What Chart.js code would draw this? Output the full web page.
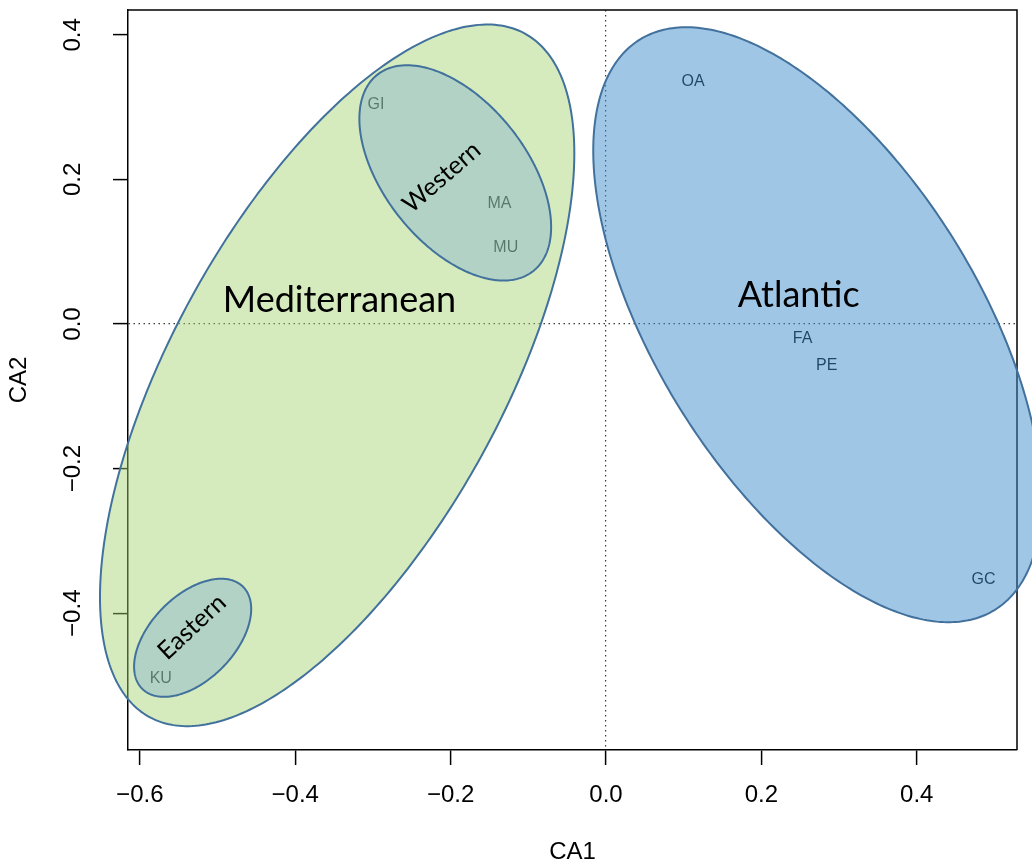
<!DOCTYPE html>
<html>
<head>
<meta charset="utf-8">
<script src="https://cdn.jsdelivr.net/npm/chart.js@4.4.1/dist/chart.umd.min.js"></script>
<style>
  html, body { margin: 0; padding: 0; background: #ffffff; }
  #wrap { width: 1032px; height: 864px; }
</style>
</head>
<body>
<div id="wrap"><canvas id="ca" width="1032" height="864"></canvas></div>
<script>
// Correspondence analysis: site scores on the first two axes
const siteCodes = ['GI', 'MA', 'MU', 'KU', 'OA', 'FA', 'PE', 'GC'];
const ca1Scores = [-0.296, -0.137, -0.129, -0.573, 0.112, 0.253, 0.284, 0.486];
const ca2Scores = [0.303, 0.166, 0.106, -0.490, 0.335, -0.020, -0.058, -0.353];

const xTickValues = [-0.6, -0.4, -0.2, 0.0, 0.2, 0.4];
const yTickValues = [-0.4, -0.2, 0.0, 0.2, 0.4];

// Site groups, outlined as ellipses in CA1/CA2 units
const groupNames = ['Mediterranean', 'Atlantic', 'Western', 'Eastern'];
const groupCentreCA1 = [-0.346, 0.272, -0.194, -0.532];
const groupCentreCA2 = [-0.071, -0.001, 0.209, -0.434];
const groupSemiMajor = [0.531, 0.456, 0.169, 0.096];
const groupSemiMinor = [0.216, 0.211, 0.094, 0.056];
const groupAngleDeg = [63.6, -60.9, -55.3, 49.7];

// Drawing styles for each group and where its name is written
const groupStyles = [
  { fill: 'rgba(162,211,111,0.45)', label: { x: -0.343, y: 0.032, rot: 0, size: 36 } },
  { fill: 'rgba(65,141,205,0.50)', label: { x: 0.248, y: 0.040, rot: 0, size: 36 } },
  { fill: 'rgba(113,166,210,0.35)', label: { x: -0.2115, y: 0.203, rot: -41, size: 25 } },
  { fill: 'rgba(113,166,210,0.35)', label: { x: -0.533, y: -0.419, rot: -43, size: 25 } }
];
const outlineColour = '#41719c';
const axisFont = { family: "'Liberation Sans', Arial, sans-serif", size: 24 };
const groupFontFamily = "Lato, 'Noto Sans', sans-serif";

const fmt = v => (v < 0 ? '\u2212' : '') + Math.abs(v).toFixed(1);

const groupsPlugin = {
  id: 'groups',
  afterDatasetsDraw(chart) {
    // site codes written at their scores
    const { ctx } = chart;
    const meta = chart.getDatasetMeta(0);
    ctx.save();
    ctx.font = "16px 'Liberation Sans', Arial, sans-serif";
    ctx.fillStyle = '#000000';
    ctx.textAlign = 'center';
    ctx.textBaseline = 'middle';
    meta.data.forEach((el, i) => ctx.fillText(siteCodes[i], el.x, el.y));
    ctx.restore();
  },
  afterDraw(chart) {
    const { ctx, chartArea: a, scales: { x, y } } = chart;
    ctx.save();
    // close the plot frame on the top and right
    ctx.strokeStyle = '#000000';
    ctx.lineWidth = 1.5;
    ctx.beginPath();
    ctx.moveTo(a.left, a.top);
    ctx.lineTo(a.right, a.top);
    ctx.lineTo(a.right, a.bottom);
    ctx.stroke();

    // translucent group ellipses
    groupNames.forEach((name, i) => {
      const th = groupAngleDeg[i] * Math.PI / 180;
      const c = Math.cos(th), s = Math.sin(th);
      const n = 360;
      ctx.beginPath();
      for (let k = 0; k <= n; k++) {
        const t = (k / n) * 2 * Math.PI;
        const u = groupSemiMajor[i] * Math.cos(t);
        const v = groupSemiMinor[i] * Math.sin(t);
        const px = x.getPixelForValue(groupCentreCA1[i] + u * c - v * s);
        const py = y.getPixelForValue(groupCentreCA2[i] + u * s + v * c);
        if (k === 0) ctx.moveTo(px, py); else ctx.lineTo(px, py);
      }
      ctx.closePath();
      ctx.fillStyle = groupStyles[i].fill;
      ctx.fill();
      ctx.strokeStyle = outlineColour;
      ctx.lineWidth = 2;
      ctx.stroke();
    });

    // group names
    ctx.fillStyle = '#000000';
    ctx.textAlign = 'center';
    ctx.textBaseline = 'middle';
    groupNames.forEach((name, i) => {
      const L = groupStyles[i].label;
      ctx.save();
      ctx.translate(x.getPixelForValue(L.x), y.getPixelForValue(L.y));
      ctx.rotate(L.rot * Math.PI / 180);
      ctx.font = L.size + 'px ' + groupFontFamily;
      ctx.fillText(name, 0, 0);
      ctx.restore();
    });
    ctx.restore();
  }
};

const zeroLine = ctx => (ctx.tick && ctx.tick.value === 0) ? '#3a3a3a' : 'rgba(0,0,0,0)';
const noOverhang = s => { s.paddingTop = 0; s.paddingBottom = 0; s.paddingLeft = 0; s.paddingRight = 0; };

new Chart(document.getElementById('ca'), {
  type: 'scatter',
  data: {
    datasets: [{
      label: 'Sites',
      data: siteCodes.map((code, i) => ({ x: ca1Scores[i], y: ca2Scores[i] })),
      pointRadius: 0,
      pointHoverRadius: 0
    }]
  },
  options: {
    responsive: false,
    animation: false,
    events: [],
    devicePixelRatio: 1,
    layout: { padding: { left: 0, right: 15, top: 10, bottom: 0 } },
    plugins: { legend: { display: false }, tooltip: { enabled: false } },
    scales: {
      x: {
        type: 'linear',
        position: 'bottom',
        min: -0.6152,
        max: 0.529,
        afterBuildTicks: s => { s.ticks = xTickValues.map(v => ({ value: v })); },
        afterFit: s => { s.height = 114; noOverhang(s); },
        ticks: { font: axisFont, color: '#000000', padding: 16, maxRotation: 0, callback: v => fmt(v) },
        grid: { color: zeroLine, lineWidth: 1.2, drawTicks: true, tickLength: 15, tickColor: '#000000', tickWidth: 1.5 },
        border: { display: true, color: '#000000', width: 1.5, dash: [1.5, 3.5] },
        title: { display: true, text: 'CA1', color: '#000000', font: Object.assign({ lineHeight: 1 }, axisFont), padding: { top: 0, bottom: 0 } }
      },
      y: {
        type: 'linear',
        position: 'left',
        min: -0.5892,
        max: 0.4343,
        afterBuildTicks: s => { s.ticks = yTickValues.map(v => ({ value: v })); },
        afterFit: s => { s.width = 128; noOverhang(s); },
        ticks: { font: axisFont, color: '#000000', padding: 16, minRotation: 90, maxRotation: 90, crossAlign: 'center', callback: v => fmt(v) },
        grid: { color: zeroLine, lineWidth: 1.2, drawTicks: true, tickLength: 15, tickColor: '#000000', tickWidth: 1.5 },
        border: { display: true, color: '#000000', width: 1.5, dash: [1.5, 3.5] },
        title: { display: true, text: 'CA2', color: '#000000', font: Object.assign({ lineHeight: 1 }, axisFont), padding: { top: 7, bottom: 0 } }
      }
    }
  },
  plugins: [groupsPlugin]
});
</script>
</body>
</html>
